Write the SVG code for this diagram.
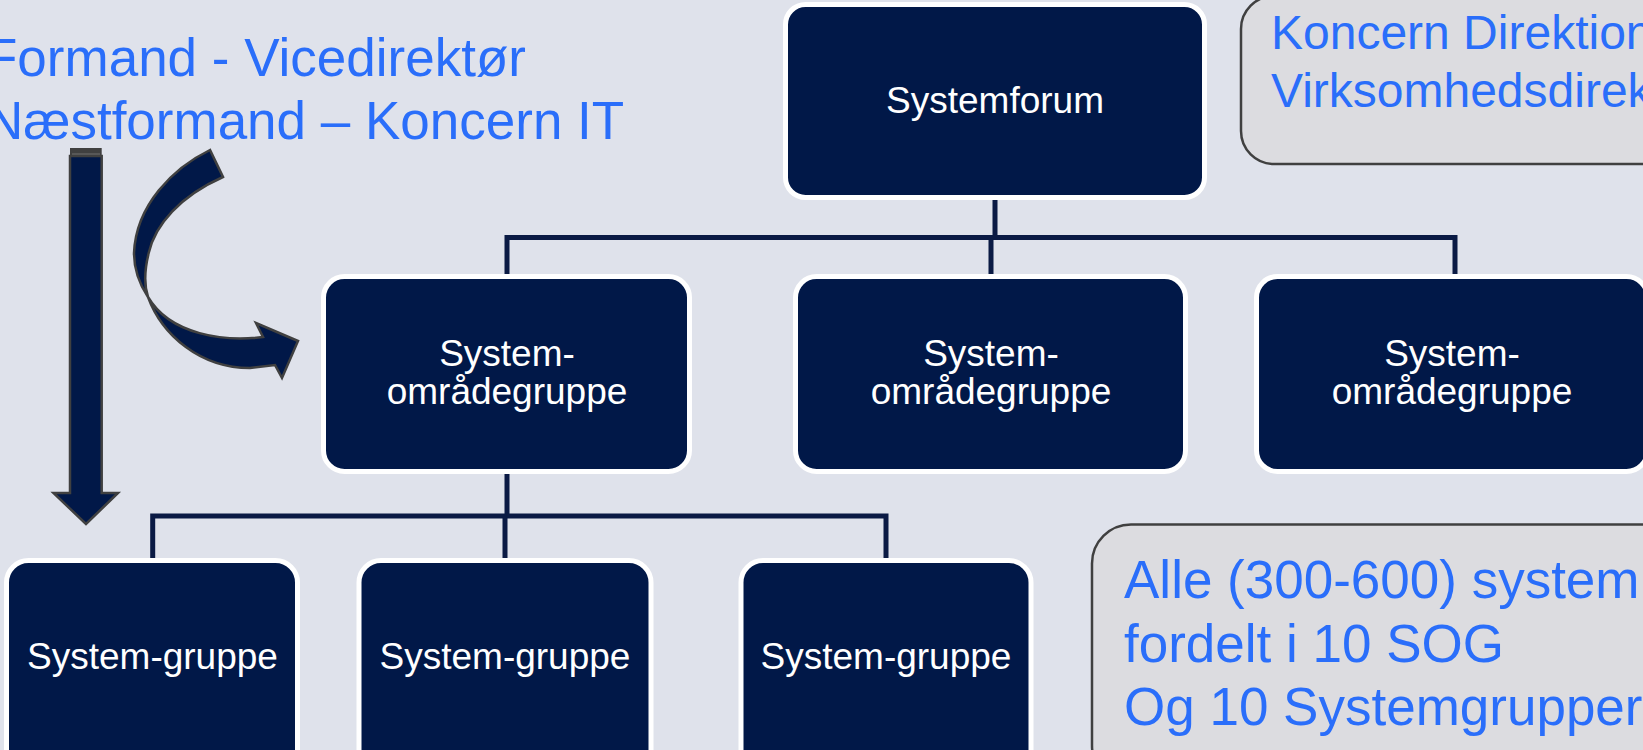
<svg xmlns="http://www.w3.org/2000/svg" width="1643" height="750" viewBox="0 0 1643 750">
<style>
.bg{fill:#DFE2EB}
.node rect{fill:#011848;stroke:#FFFFFF;stroke-width:5}
.node text{fill:#FFFFFF;font-family:"Liberation Sans",Arial,sans-serif;font-size:37px;text-anchor:middle}
.note rect{fill:#DCDCE0;stroke:#404040;stroke-width:2.5}
.blue{fill:#2A6EFA;font-family:"Liberation Sans",Arial,sans-serif}
.conn{fill:none;stroke:#0A1A44;stroke-width:5;stroke-linejoin:miter}
.arrow{fill:#011848;stroke:#404040;stroke-width:2.5;stroke-linejoin:miter}
</style>
<rect class="bg" x="0" y="0" width="1643" height="750"/>

<g id="title">
<text class="blue" x="-15" y="76" font-size="53">Formand - Vicedirektør</text>
<text class="blue" x="-15" y="138.5" font-size="53">Næstformand – Koncern IT</text>
</g>

<g id="arrow-down">
<polygon class="arrow" points="70,156 101.7,156 101.7,493 118,493 86,524 53.5,493 70,493"/>
<rect x="70" y="148" width="31.7" height="9" fill="#404040"/>
<line x1="72" y1="154" x2="100" y2="154" stroke="#707070" stroke-width="1"/>
</g>

<g id="arrow-curved">
<path class="arrow" d="M210,150 C173,168 136,205 134,253 C134,270 140,285 148,297 C162,335 200,368 250,368 L275,365 L282,378 L298,341 L256,323 L263,337 C225,342 170,335 148,297 C144,285 145,268 148.7,253 C155,225 180,196 223,177 Z"/>
</g>

<g id="connectors">
<path class="conn" d="M995,200 V237.5 M507,275 V237.5 H1455 V275 M991,237.5 V275"/>
<path class="conn" d="M507,474 V516 M152.7,559 V516 H886 V559 M505,516 V559"/>
</g>

<g id="systemforum" class="node">
<rect x="785.5" y="4.5" width="419" height="193" rx="20"/>
<text x="995" y="113">Systemforum</text>
</g>

<g id="sog1" class="node">
<rect x="323.5" y="276.5" width="366" height="195" rx="21"/>
<text x="507" y="366">System-</text>
<text x="507" y="404">områdegruppe</text>
</g>

<g id="sog2" class="node">
<rect x="795.5" y="276.5" width="390" height="195" rx="21"/>
<text x="991" y="366">System-</text>
<text x="991" y="404">områdegruppe</text>
</g>

<g id="sog3" class="node">
<rect x="1256.5" y="276.5" width="391" height="195" rx="21"/>
<text x="1452" y="366">System-</text>
<text x="1452" y="404">områdegruppe</text>
</g>

<g id="sg1" class="node">
<rect x="6.5" y="560.5" width="291" height="230" rx="22"/>
<text x="152.5" y="668.5">System-gruppe</text>
</g>

<g id="sg2" class="node">
<rect x="359" y="560.5" width="292" height="230" rx="22"/>
<text x="505" y="668.5">System-gruppe</text>
</g>

<g id="sg3" class="node">
<rect x="741" y="560.5" width="290" height="230" rx="22"/>
<text x="886" y="668.5">System-gruppe</text>
</g>

<g id="note-top" class="note">
<rect x="1241" y="-4" width="440" height="168" rx="33"/>
<text class="blue" x="1271" y="49" font-size="48">Koncern Direktion</text>
<text class="blue" x="1271" y="107" font-size="48">Virksomhedsdirek</text>
</g>

<g id="note-bottom" class="note">
<rect x="1092" y="524.5" width="600" height="260" rx="39"/>
<text class="blue" x="1124" y="598" font-size="53">Alle (300-600) system</text>
<text class="blue" x="1124" y="662" font-size="53">fordelt i 10 SOG</text>
<text class="blue" x="1124" y="725" font-size="53">Og 10 Systemgrupper</text>
</g>
</svg>
